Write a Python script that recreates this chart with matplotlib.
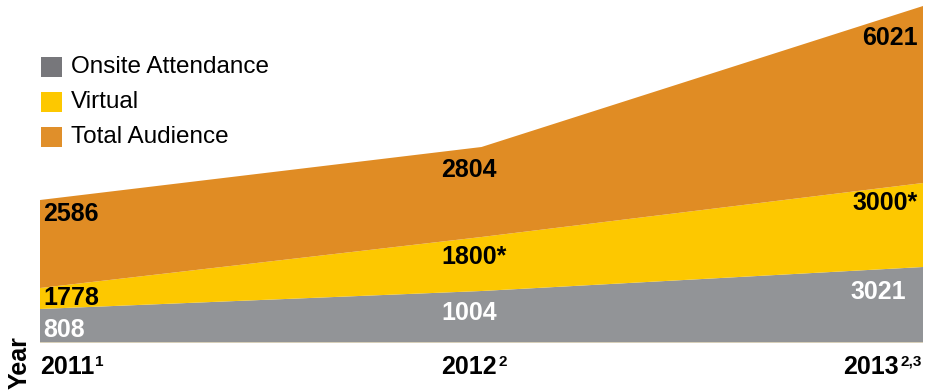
import matplotlib
matplotlib.use('Agg')
import matplotlib.pyplot as plt
from matplotlib.patches import Rectangle

years = ['2011', '2012', '2013']
notes = ['1', '2', '2,3']
onsite = [808, 1004, 3021]
virtual = [1778, 1800, 3000]
virtual_estimated = [False, True, True]
total = [2586, 2804, 6021]
# thickness of each band as drawn in the graphic (it is not to scale with the numbers)
onsite_band = [34, 52, 76]
virtual_band = [21, 54, 84]
rest_band = [88, 90, 177]

series = ['Onsite Attendance', 'Virtual', 'Total Audience']
colors = ['#929497', '#fdc800', '#e08c24']
legend_colors = ['#77777b', '#fdc800', '#e08f2a']

plt.rcParams['font.family'] = ['Liberation Sans', 'DejaVu Sans']

W, H = 938, 390
fig = plt.figure(figsize=(W / 100, H / 100), dpi=100)
ax = fig.add_axes([40 / W, 47 / H, 883 / W, 343 / H])
x = list(range(len(years)))
ax.stackplot(x, onsite_band, virtual_band, rest_band, colors=colors, linewidth=0)
ax.axhline(0, color='#e6dcc0', lw=1.2, zorder=5)
ax.set_xlim(0, 2)
ax.set_ylim(0, 343)
ax.axis('off')

# value labels, heights in px above the baseline
label_y = {'total': [129, 173, 305], 'virtual': [45, 86, 140], 'onsite': [13, 30, 51]}
x_off = [3, -40, -5]
ha = ['left', 'left', 'right']
for i in range(len(years)):
    vtxt = str(virtual[i]) + ('*' if virtual_estimated[i] else '')
    for txt, key, col, dx in [(str(total[i]), 'total', 'black', 0),
                              (vtxt, 'virtual', 'black', 0),
                              (str(onsite[i]), 'onsite', 'white', -12 if i == 2 else 0)]:
        ax.annotate(txt, xy=(x[i], label_y[key][i]), xytext=(x_off[i] + dx, 0),
                    textcoords='offset pixels', ha=ha[i], va='center',
                    fontsize=18, fontweight='bold', color=col)

# year labels with footnote marks
tick_y = -24
year_dx = [0, -40, -24]
year_ha = ['left', 'left', 'right']
for i in range(len(years)):
    t = ax.annotate(years[i], xy=(x[i], tick_y), xytext=(year_dx[i], 0),
                    textcoords='offset pixels', ha=year_ha[i], va='center',
                    fontsize=18, fontweight='bold', annotation_clip=False)
    ax.annotate(notes[i], xy=(1, 1), xycoords=t, xytext=(1, 0), textcoords='offset pixels',
                ha='left', va='top', fontsize=11, fontweight='bold')

fig.text(20 / W, 1 - 389 / H, 'Year', rotation=90, ha='center', va='bottom',
         fontsize=18, fontweight='bold')

# legend
for j, name in enumerate(series):
    top = 57 + 35 * j
    fig.patches.append(Rectangle((41 / W, 1 - (top + 20) / H), 21 / W, 20 / H,
                                 transform=fig.transFigure, color=legend_colors[j], lw=0))
    fig.text(71 / W, 1 - (top + 10) / H, name, ha='left', va='center', fontsize=17.5)

fig.savefig('out.png', dpi=100)
